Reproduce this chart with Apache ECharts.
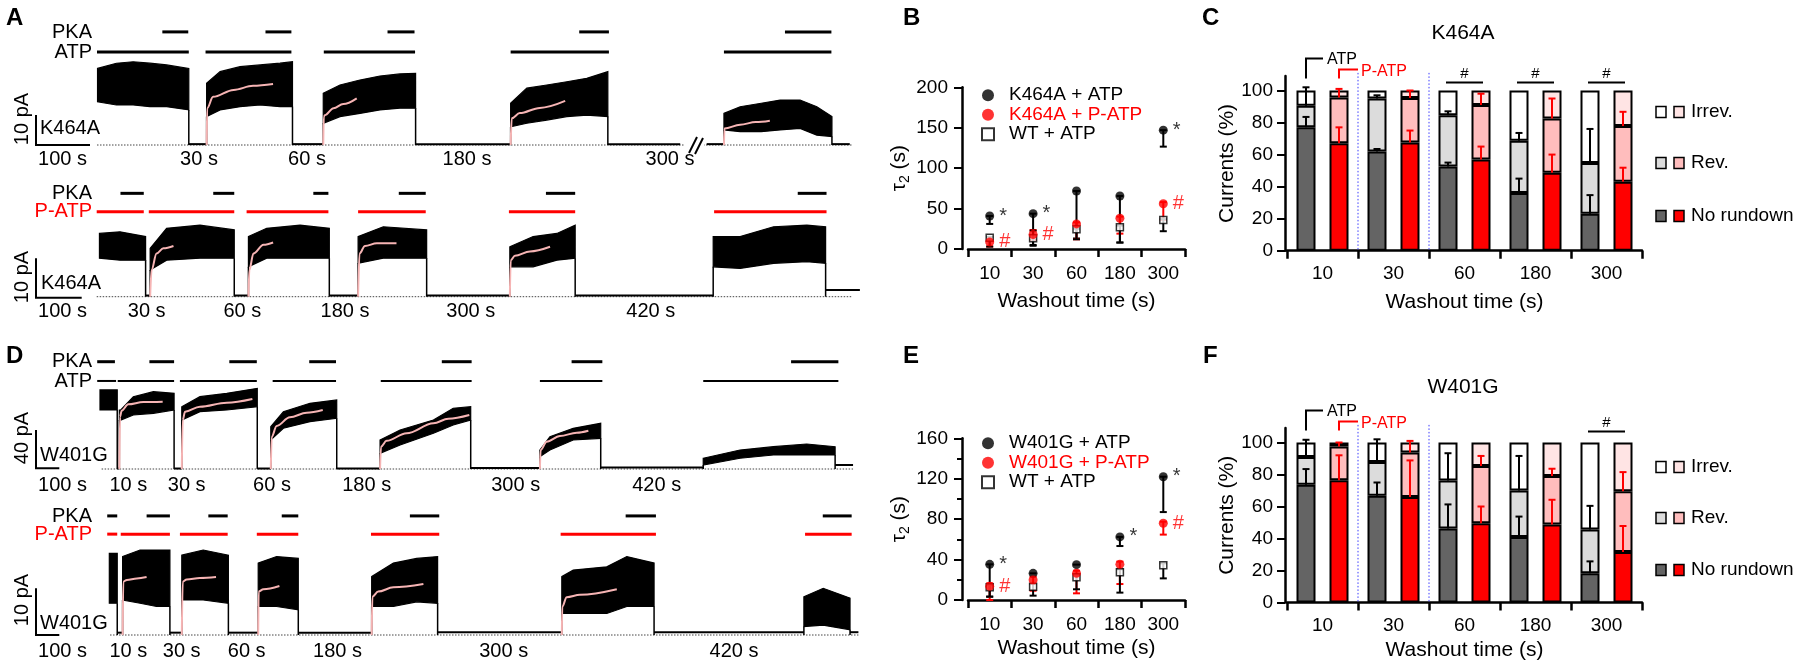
<!DOCTYPE html>
<html><head><meta charset="utf-8">
<script src="https://cdn.jsdelivr.net/npm/echarts@6/dist/echarts.min.js"></script>
<style>html,body{margin:0;padding:0;background:#fff}#c{width:1800px;height:665px}</style>
</head><body><div id="c"></div>
<script>
// ================= DATA =================
const washoutCats = ['10', '30', '60', '180', '300'];

// ---- Panel A, top trace (K464A, ATP): [time s, low pA, high pA] envelope of each current pulse
const aTopBands = [
  [[1,14.9,26.4],[36,13.8,28.2],[67,13.8,28.7],[98,13.2,28.2],[129,13.2,27.6],[170,12.1,26.4]],
  [[203,9.8,21.3],[228,12.1,25.3],[265,13.2,27.0],[302,13.8,27.6],[339,13.2,28.2],[362,13.2,28.7]],
  [[419,7.5,17.8],[450,9.8,20.7],[487,10.9,22.4],[524,12.1,23.8],[561,12.7,24.5],[590,12.7,24.7]],
  [[766,6.3,14.4],[796,7.5,19.6],[833,8.6,20.7],[870,9.8,21.8],[907,10.3,23.0],[946,9.8,25.3]],
  [[1161,5.2,10.9],[1191,4.6,13.2],[1230,4.6,14.4],[1265,5.2,15.5],[1302,5.7,15.5],[1333,3.4,13.2],[1361,2.9,9.8]]
];
const aTopFits = [
  [[203,0],[204,12.7],[215,16.6],[253,19.0],[289,20.4],[326,21.0]],
  [[419,0],[420,9.8],[422,10.3],[438,12.7],[456,14.1],[481,16.1]],
  [[766,0],[768,9.2],[783,11.0],[820,12.8],[867,15.2]],
  [[1161,0],[1162,5.7],[1191,7.0],[1220,7.9],[1246,8.4]]
];
const aTopBaseline = [[170,203,0.3],[362,419,0.3],[590,766,0.3],[946,1080,0.3],[1129,1161,0.3],[1361,1394,0.3]];
const aTopATP = [[0,170],[201,360],[420,589],[766,948],[1161,1360]];
const aTopPKA = [[121,169],[312,360],[538,588],[893,948],[1274,1360]];
const aTopWashout = ['30 s', '60 s', '180 s', '300 s'];

// ---- Panel A, bottom trace (K464A, P-ATP)
const aBotBands = [
  [[6,9.8,16.1],[51,9.3,16.5],[107,9.3,15.3]],
  [[117,6.8,12.3],[153,9.3,17.4],[226,9.8,18.2],[301,9.8,17.0]],
  [[332,7.6,15.3],[372,9.8,17.4],[445,9.8,18.2],[509,9.8,17.4]],
  [[572,8.5,15.3],[627,9.8,17.8],[722,9.8,17.0]],
  [[904,7.6,12.7],[955,7.6,15.3],[1007,9.3,16.1],[1047,9.8,18.2]],
  [[1349,7.6,15.3],[1408,7.2,15.3],[1481,8.5,17.8],[1554,8.9,18.2],[1595,8.5,17.8]]
];
const aBotFits = [
  [[117,0],[120,6.8],[131,11.0],[146,12.3],[168,12.9]],
  [[332,0],[334,6.8],[343,11.0],[365,13.2],[386,13.8]],
  [[572,0],[575,11.0],[587,12.9],[613,13.6],[656,13.6]],
  [[904,0],[906,9.3],[915,10.4],[948,11.5],[992,12.7]]
];
const aBotBaseline = [[107,117,0.3],[301,332,0.3],[509,572,0.3],[722,904,0.3],[1047,1349,0.3],[1595,1670,1.7]];
const aBotPATP = [[0,103],[114,301],[328,507],[572,720],[902,1047],[1351,1597]];
const aBotPKA = [[52,103],[255,301],[474,507],[661,720],[983,1047],[1534,1597]];
const aBotWashout = ['30 s', '60 s', '180 s', '300 s', '420 s'];

// ---- Panel D, top trace (W401G, ATP)
const dTopBands = [
  [[0,61.6,82.5],[74,61.6,82.5]],
  [[83,51.1,61.6],[89,51.1,61.6],[143,56.4,75.5],[229,58.1,80.7],[318,61.6,79.0]],
  [[351,51.1,65.0],[429,59.8,75.5],[544,61.6,79.0],[675,65.0,84.2]],
  [[733,30.3,44.2],[787,42.5,59.8],[901,49.4,68.6],[1016,52.9,72.0]],
  [[1202,16.4,30.3],[1288,25.1,40.7],[1431,37.3,51.1],[1516,45.9,63.4],[1591,51.1,65.0]],
  [[1888,12.8,19.8],[1931,19.8,33.7],[2031,30.3,42.5],[2149,32.0,47.7]],
  [[2589,4.2,11.2],[2747,11.2,19.8],[2890,14.6,23.3],[3033,14.6,26.1],[3155,14.6,23.3]]
];
const dTopFits = [
  [[83,0],[86,54.6],[93,60.9],[121,67.5],[186,69.9],[269,70.3]],
  [[351,0],[355,51.1],[365,59.8],[429,65.0],[544,69.2],[654,73.1]],
  [[733,0],[737,33.7],[758,44.9],[815,54.0],[887,58.8],[956,61.6]],
  [[1202,0],[1206,23.3],[1230,29.5],[1316,37.3],[1431,47.7],[1495,52.5],[1585,56.4]],
  [[1888,0],[1891,19.8],[1917,28.5],[1974,34.4],[2046,37.9],[2096,40.0]]
];
const dTopBaseline = [[74,83,0.5],[318,351,0.5],[675,733,0.5],[1016,1202,0.5],[1591,1888,1],[2149,2589,1.5],[3155,3232,4.2]];
const dTopATP = [[-12,69],[76,318],[343,673],[741,1013],[1205,1595],[1888,2156],[2589,3169]];
const dTopPKA = [[-12,64],[212,318],[555,673],[898,1013],[1467,1595],[2024,2156],[2966,3169]];
const dTopWashout = ['10 s', '30 s', '60 s', '180 s', '300 s', '420 s'];

// ---- Panel D, bottom trace (W401G, P-ATP)
const dBotBands = [
  [[40,6.8,17.5],[74,6.8,17.5]],
  [[97,7.5,16.8],[172,6.8,18.2],[243,6.1,18.2],[300,6.1,18.2]],
  [[351,7.5,17.1],[443,7.5,18.2],[551,6.8,17.1]],
  [[679,6.1,15.4],[758,6.1,16.8],[851,5.4,16.4]],
  [[1166,6.1,12.5],[1259,6.1,15.4],[1359,7.1,16.4],[1449,6.8,16.8]],
  [[1982,4.6,12.5],[2031,4.6,13.9],[2175,4.6,14.6],[2261,6.1,16.8],[2378,6.1,15.4]],
  [[3021,1.8,8.2],[3104,2.1,10.0],[3219,1.1,7.9]]
];
const dBotFits = [
  [[97,0],[100,11.4],[115,11.8],[158,12.1],[200,12.4]],
  [[351,0],[355,11.4],[372,11.9],[429,12.2],[498,12.4]],
  [[679,0],[681,9.3],[701,9.8],[770,10.5]],
  [[1166,0],[1169,8.2],[1194,9.3],[1259,10.2],[1388,10.9]],
  [[1982,0],[1984,6.1],[2003,8.1],[2060,8.6],[2218,9.8]]
];
const dBotBaseline = [[74,97,0.5],[300,351,0.5],[551,679,0.5],[851,1166,0.5],[1449,1982,0.6],[2378,3021,0.6],[3219,3255,0.6]];
const dBotPATP = [[31,74],[89,300],[343,548],[673,851],[1163,1456],[1977,2386],[3026,3226]];
const dBotPKA = [[31,74],[200,300],[465,548],[780,851],[1330,1456],[2256,2386],[3102,3226]];
const dBotWashout = ['10 s', '30 s', '60 s', '180 s', '300 s', '420 s'];

// ---- Panel B: tau2 (s) for K464A
const bMeanATP  = [40.8, 43.7, 71.8, 65.6, 147];
const bLoATP    = [31, 5, 13, 8, 126.6];
const bHiATP    = [40.8, 43.7, 71.8, 65.6, 147];
const bMeanPATP = [8.7, 18, 31, 38, 56];
const bLoPATP   = [3, 11, 12, 19, 36];
const bHiPATP   = [11, 23.5, 33, 40, 58];
const bMeanWT   = [14, 13.2, 24.3, 26.8, 35.9];
const bLoWT     = [3, 4, 12, 8, 22];
const bHiWT     = [15, 22.7, 25, 29, 37];
const bSigATP   = ['*', '*', '', '', '*'];
const bSigPATP  = ['#', '#', '', '', '#'];

// ---- Panel E: tau2 (s) for W401G
const eMeanATP  = [35.3, 26.4, 35, 62.4, 122];
const eLoATP    = [3.3, 26.4, 35, 53.4, 87];
const eHiATP    = [35.3, 26.4, 35, 62.4, 122];
const eMeanPATP = [13.5, 19.8, 26.4, 35.3, 75.9];
const eLoPATP   = [0, 9.2, 6.6, 15.8, 64.7];
const eHiPATP   = [16.5, 23, 29, 38, 77.5];
const eMeanWT   = [12.5, 13.2, 22.4, 27.4, 34.3];
const eLoWT     = [3.3, 4.3, 10.6, 7.3, 21.4];
const eHiWT     = [14.8, 15.8, 24.7, 30.4, 36.3];
const eSigATP   = ['*', '', '', '*', '*'];
const eSigPATP  = ['#', '', '', '', '#'];

// ---- Panel C: currents (%) K464A
const cNoRundownATP  = [77, 62, 52.5, 36, 23];
const cRevATP        = [13.5, 33, 32, 32.7, 31.7];
const cIrrevATP      = [9.5, 5, 15.5, 31.3, 45.3];
const cNoRundownPATP = [67, 67.5, 57, 48.7, 43];
const cRevPATP       = [28.7, 27.8, 34, 33.8, 34.8];
const cIrrevPATP     = [4.3, 4.7, 9, 17.5, 22.2];
const cErrNoRundownATP  = [6.5, 1.5, 2.5, 9, 11.7];
const cErrRevATP        = [11.5, 2, 2.5, 4.8, 21.3];
const cErrNoRundownPATP = [10, 7.5, 8, 11.3, 8.8];
const cErrRevPATP       = [5.3, 4.7, 7, 12.5, 8.9];
const cSig = ['', '', '#', '#', '#'];

// ---- Panel F: currents (%) W401G
const fNoRundownATP  = [73.6, 66.7, 46.3, 41, 18.3];
const fRevATP        = [17.4, 21.1, 29.9, 29, 27.4];
const fIrrevATP      = [9, 12.2, 23.8, 30, 54.3];
const fNoRundownPATP = [76.4, 65.9, 49.5, 48.8, 31.6];
const fRevPATP       = [21.1, 27.8, 35.8, 30.2, 37.9];
const fIrrevPATP     = [2.5, 6.3, 14.7, 21, 30.5];
const fErrNoRundownATP  = [9.8, 8.3, 15, 12.7, 7.4];
const fErrRevATP        = [10.7, 14.2, 17.1, 21.6, 14.7];
const fErrNoRundownPATP = [15.6, 22.9, 10.5, 15.4, 16.2];
const fErrRevPATP       = [2.5, 7.3, 6.3, 4.6, 12];
const fSig = ['', '', '', '', '#'];

const legendRows = ['Irrev.', 'Rev.', 'No rundown'];

// ================= STYLE / LAYOUT =================
const FF = '"Liberation Sans", Arial, Helvetica, sans-serif';
const DARK = '#646464', LIGHT = '#dcdcdc', RED = '#ff0000', PINK = '#ffbdbd', PALE = '#ffe4e4';
const FIT = '#f6b4b4';
const BAR_W = 19, BAR_GAP = 14;

const chart = echarts.init(document.getElementById('c'), null, {renderer: 'canvas', width: 1800, height: 665});
const grids = [], xAxes = [], yAxes = [], series = [], legends = [], gfx = [];

// ---------- traces ----------
function segSeries(g, segs, color, width, z) {
  return {
    type: 'custom', xAxisIndex: g, yAxisIndex: g, silent: true, z: z,
    data: segs.map(s => [s[0], s[1], s[2]]),
    encode: {x: [0, 1], y: 2},
    renderItem(params, api) {
      const a = api.coord([api.value(0), api.value(2)]);
      const b = api.coord([api.value(1), api.value(2)]);
      return {type: 'line', shape: {x1: a[0], y1: a[1], x2: b[0], y2: b[1]}, style: {stroke: color, lineWidth: width}};
    }
  };
}
function bandSeries(g, bands) {
  return {
    type: 'custom', xAxisIndex: g, yAxisIndex: g, silent: true, z: 3,
    data: bands.map(b => [b[0][0], b[0][2]]),
    encode: {x: 0, y: 1},
    renderItem(params, api) {
      const b = bands[params.dataIndex];
      const top = b.map(p => api.coord([p[0], p[2]]));
      const bot = b.map(p => api.coord([p[0], p[1]])).reverse();
      const ch = [{type: 'polygon', shape: {points: top.concat(bot)}, style: {fill: '#000', stroke: '#000', lineWidth: 1.2}}];
      const last = b[b.length - 1];
      const e0 = api.coord([last[0], last[1]]), e1 = api.coord([last[0], 0]);
      ch.push({type: 'line', shape: {x1: e0[0], y1: e0[1], x2: e1[0], y2: e1[1]}, style: {stroke: '#000', lineWidth: 1.5}});
      if (params.dataIndex > 0) {
        const f = b[0];
        const s0 = api.coord([f[0], f[1]]), s1 = api.coord([f[0], 0]);
        ch.push({type: 'line', shape: {x1: s0[0], y1: s0[1], x2: s1[0], y2: s1[1]}, style: {stroke: '#000', lineWidth: 1.5}});
      }
      return {type: 'group', children: ch};
    }
  };
}
function addTrace(L, T) {
  const g = grids.length;
  grids.push({left: L.x0 + L.tmin * L.pxPerS, top: L.base - L.ymax * L.pxPerPA,
              width: (L.tmax - L.tmin) * L.pxPerS, height: (L.ymax - L.ymin) * L.pxPerPA});
  xAxes.push({gridIndex: g, type: 'value', min: L.tmin, max: L.tmax, show: false});
  yAxes.push({gridIndex: g, type: 'value', min: L.ymin, max: L.ymax, show: false});
  series.push({type: 'line', xAxisIndex: g, yAxisIndex: g, silent: true, symbol: 'none', z: 1,
               data: [[L.dot[0], 0], [L.dot[1], 0]], lineStyle: {color: '#444', width: 1, type: [1.5, 1.5]}});
  series.push(segSeries(g, T.base, '#000', 2, 2));
  series.push(bandSeries(g, T.bands));
  T.fits.forEach(f => series.push({type: 'line', xAxisIndex: g, yAxisIndex: g, silent: true, symbol: 'none', z: 6,
      data: f, smooth: 0.35, smoothMonotone: 'x', lineStyle: {color: FIT, width: 2}}));
  series.push(segSeries(g, T.app.map(s => [s[0], s[1], L.appLevel]), L.appColor, L.appW, 4));
  series.push(segSeries(g, T.pka.map(s => [s[0], s[1], L.pkaLevel]), '#000', L.pkaW, 4));
}

addTrace({x0: 97, pxPerS: 0.54, base: 145, pxPerPA: 2.9, tmin: 0, tmax: 1400, ymin: -2, ymax: 42,
          dot: [0, 1400], appLevel: 32.1, pkaLevel: 39, appColor: '#000', appW: 3, pkaW: 3},
         {bands: aTopBands, fits: aTopFits, base: aTopBaseline, app: aTopATP, pka: aTopPKA});
addTrace({x0: 96.7, pxPerS: 0.457, base: 296.7, pxPerPA: 3.93, tmin: 0, tmax: 1670, ymin: -2, ymax: 28,
          dot: [0, 1652], appLevel: 21.6, pkaLevel: 26.3, appColor: RED, appW: 3, pkaW: 3},
         {bands: aBotBands, fits: aBotFits, base: aBotBaseline, app: aBotPATP, pka: aBotPKA});
addTrace({x0: 100, pxPerS: 0.233, base: 469, pxPerPA: 0.958, tmin: -20, tmax: 3240, ymin: -5, ymax: 118,
          dot: [7, 3232], appLevel: 91.9, pkaLevel: 112, appColor: '#000', appW: 2, pkaW: 3},
         {bands: dTopBands, fits: dTopFits, base: dTopBaseline, app: dTopATP, pka: dTopPKA});
addTrace({x0: 100, pxPerS: 0.233, base: 635, pxPerPA: 4.67, tmin: -20, tmax: 3260, ymin: -2, ymax: 27,
          dot: [43, 3255], appLevel: 21.6, pkaLevel: 25.5, appColor: RED, appW: 3, pkaW: 3},
         {bands: dBotBands, fits: dBotFits, base: dBotBaseline, app: dBotPATP, pka: dBotPKA});

// ---------- tau2 scatter panels ----------
function errSeries(g, lo, hi, color, z) {
  return {
    type: 'custom', xAxisIndex: g, yAxisIndex: g, silent: true, z: z,
    data: lo.map((l, i) => [i, l, hi[i]]),
    encode: {x: 0, y: [1, 2]},
    renderItem(params, api) {
      const p0 = api.coord([api.value(0), api.value(1)]);
      const p1 = api.coord([api.value(0), api.value(2)]);
      const x = p0[0], c = 3.5, st = {stroke: color, lineWidth: 2};
      const ch = [{type: 'line', shape: {x1: x, y1: p0[1], x2: x, y2: p1[1]}, style: st},
                  {type: 'line', shape: {x1: x - c, y1: p0[1], x2: x + c, y2: p0[1]}, style: st}];
      if (Math.abs(p1[1] - p0[1]) > 1) ch.push({type: 'line', shape: {x1: x - c, y1: p1[1], x2: x + c, y2: p1[1]}, style: st});
      return {type: 'group', children: ch};
    }
  };
}
function tauPanel(o) {
  const g = grids.length;
  grids.push({left: 968, width: 217, top: o.top, height: o.height});
  xAxes.push({gridIndex: g, type: 'category', data: washoutCats, offset: 6, boundaryGap: true,
    axisLine: {lineStyle: {color: '#000', width: 2.5}},
    axisTick: {show: true, length: 8, alignWithLabel: false, lineStyle: {color: '#000', width: 2.5}},
    axisLabel: {color: '#000', fontSize: 19, fontFamily: FF, margin: 9},
    name: 'Washout time (s)', nameLocation: 'middle', nameGap: o.nameGapX,
    nameTextStyle: {color: '#000', fontSize: 21, fontFamily: FF}});
  yAxes.push({gridIndex: g, type: 'value', min: 0, max: o.max, interval: o.interval, offset: 6,
    axisLine: {show: true, lineStyle: {color: '#000', width: 2.5}},
    axisTick: {show: true, length: 8, lineStyle: {color: '#000', width: 2}},
    minorTick: {show: o.minor, splitNumber: 2, length: 5, lineStyle: {color: '#000', width: 2}},
    splitLine: {show: false},
    axisLabel: {color: '#000', fontSize: 19, fontFamily: FF, margin: 14},
    name: 'τ{s|2} (s)', nameLocation: 'middle', nameGap: 42,
    nameTextStyle: {color: '#000', fontSize: 21, fontFamily: FF, rich: {s: {fontSize: 14, fontFamily: FF, verticalAlign: 'bottom', padding: [12, 0, 0, 0]}}}});
  const sets = [
    {name: o.names[0], mean: o.mATP, lo: o.loATP, hi: o.hiATP, sig: o.sigATP, color: '#000', sigColor: '#000', symbol: 'circle', size: 9, style: {color: '#000'}},
    {name: o.names[1], mean: o.mPATP, lo: o.loPATP, hi: o.hiPATP, sig: o.sigPATP, color: RED, sigColor: RED, symbol: 'circle', size: 9, style: {color: RED}},
    {name: o.names[2], mean: o.mWT, lo: o.loWT, hi: o.hiWT, sig: null, color: '#000', sigColor: '#000', symbol: 'rect', size: 7, style: {color: '#fff', borderColor: '#000', borderWidth: 1.5}}
  ];
  sets.forEach((s, k) => series.push(errSeries(g, s.lo, s.hi, s.color, 2 + k)));
  [sets[2], sets[0], sets[1]].forEach((s, k) => series.push({
    type: 'scatter', name: s.name, xAxisIndex: g, yAxisIndex: g, silent: true, z: 6 + k,
    symbol: s.symbol, symbolSize: s.size, itemStyle: s.style,
    data: s.mean.map((m, i) => ({value: [i, m], label: {show: !!(s.sig && s.sig[i]), formatter: s.sig ? s.sig[i] : '',
      position: 'right', distance: 5, color: s.sigColor, fontSize: 20, fontFamily: FF}}))
  }));
  legends.push({orient: 'vertical', left: 976, top: o.legTop, itemWidth: 12, itemHeight: 12, itemGap: 0,
    selectedMode: false,
    textStyle: {fontSize: 19, fontFamily: FF, color: '#000', lineHeight: 19.5, padding: [0, 0, 0, 10]},
    formatter: n => n.replace(/ \(E\)$/, ''),
    data: [{name: o.names[0], icon: 'circle'}, {name: o.names[1], icon: 'circle', textStyle: {color: RED, padding: [0, 0, 0, 10]}},
           {name: o.names[2], icon: 'rect'}]});
}
tauPanel({top: 87.3, height: 161.7, max: 200, interval: 50, minor: false, nameGapX: 36, legTop: 80.5,
  names: ['K464A + ATP', 'K464A + P-ATP', 'WT + ATP'],
  mATP: bMeanATP, loATP: bLoATP, hiATP: bHiATP, mPATP: bMeanPATP, loPATP: bLoPATP, hiPATP: bHiPATP,
  mWT: bMeanWT, loWT: bLoWT, hiWT: bHiWT, sigATP: bSigATP, sigPATP: bSigPATP});
tauPanel({top: 438.3, height: 161.7, max: 160, interval: 40, minor: true, nameGapX: 32, legTop: 428.5,
  names: ['W401G + ATP', 'W401G + P-ATP', 'WT + ATP (E)'],
  mATP: eMeanATP, loATP: eLoATP, hiATP: eHiATP, mPATP: eMeanPATP, loPATP: eLoPATP, hiPATP: eHiPATP,
  mWT: eMeanWT, loWT: eLoWT, hiWT: eHiWT, sigATP: eSigATP, sigPATP: eSigPATP});

// ---------- stacked bar panels ----------
function barErr(g, base, err, off, color) {
  return {
    type: 'custom', xAxisIndex: g, yAxisIndex: g, silent: true, z: 8,
    data: base.map((b, i) => [i, b, b + err[i]]),
    encode: {x: 0, y: [1, 2]},
    renderItem(params, api) {
      const p0 = api.coord([api.value(0), api.value(1)]);
      const p1 = api.coord([api.value(0), api.value(2)]);
      const x = p0[0] + off, st = {stroke: color, lineWidth: 2};
      return {type: 'group', children: [
        {type: 'line', shape: {x1: x, y1: p0[1], x2: x, y2: p1[1]}, style: st},
        {type: 'line', shape: {x1: x - 3.5, y1: p1[1], x2: x + 3.5, y2: p1[1]}, style: st}]};
    }
  };
}
function txt(text, x, y, o) {
  o = o || {};
  return {type: 'text', x: x, y: y, rotation: o.rot || 0, silent: true, z: 20,
    style: {text: text, fill: o.color || '#000', font: (o.bold ? 'bold ' : '') + (o.size || 20) + 'px ' + FF,
      align: o.align || 'center', verticalAlign: 'middle', textAlign: o.align || 'center', textVerticalAlign: 'middle'}};
}
function barPanel(o) {
  const g = grids.length;
  const pxPerPct = o.pxPerPct;
  grids.push({left: 1287, width: 355, top: o.zeroY - 109 * pxPerPct, height: 109 * pxPerPct});
  xAxes.push({gridIndex: g, type: 'category', data: washoutCats, offset: 5, boundaryGap: true,
    axisLine: {lineStyle: {color: '#000', width: 2.5}},
    axisTick: {show: true, length: 8, alignWithLabel: false, lineStyle: {color: '#000', width: 2.5}},
    axisLabel: {color: '#000', fontSize: 19, fontFamily: FF, margin: 9},
    name: 'Washout time (s)', nameLocation: 'middle', nameGap: o.nameGapX,
    nameTextStyle: {color: '#000', fontSize: 21, fontFamily: FF}});
  yAxes.push({gridIndex: g, type: 'value', min: 0, max: 109, offset: 2,
    axisLine: {show: true, lineStyle: {color: '#000', width: 2.5}},
    axisTick: {show: true, length: 8, customValues: [0, 20, 40, 60, 80, 100], lineStyle: {color: '#000', width: 2}},
    splitLine: {show: false},
    axisLabel: {color: '#000', fontSize: 19, fontFamily: FF, margin: 12, customValues: [0, 20, 40, 60, 80, 100]},
    name: 'Currents (%)', nameLocation: 'middle', nameGap: 41,
    nameTextStyle: {color: '#000', fontSize: 21, fontFamily: FF}});
  const mk = (name, stack, data, color) => ({type: 'bar', name, stack, xAxisIndex: g, yAxisIndex: g, data,
    barWidth: BAR_W, barGap: (BAR_GAP / BAR_W * 100) + '%', silent: true, z: 3,
    itemStyle: {color, borderColor: '#000', borderWidth: 2}});
  series.push(mk(o.tag + 'a1', o.tag + 'A', o.nrA, DARK), mk(o.tag + 'a2', o.tag + 'A', o.revA, LIGHT), mk(o.tag + 'a3', o.tag + 'A', o.irA, '#fff'));
  series.push(mk(o.tag + 'p1', o.tag + 'P', o.nrP, RED), mk(o.tag + 'p2', o.tag + 'P', o.revP, PINK), mk(o.tag + 'p3', o.tag + 'P', o.irP, PALE));
  const off = (BAR_W + BAR_GAP) / 2;
  series.push(barErr(g, o.nrA, o.eNrA, -off, '#000'));
  series.push(barErr(g, o.nrA.map((v, i) => v + o.revA[i]), o.eRevA, -off, '#000'));
  series.push(barErr(g, o.nrP, o.eNrP, off, RED));
  series.push(barErr(g, o.nrP.map((v, i) => v + o.revP[i]), o.eRevP, off, RED));
  series.push({
    type: 'custom', xAxisIndex: g, yAxisIndex: g, silent: true, z: 9,
    data: o.sig.map((s, i) => [i, 100]).filter((d, i) => o.sig[i]),
    encode: {x: 0, y: 1},
    renderItem(params, api) {
      const p = api.coord([api.value(0), 100]);
      const y = p[1] - o.sigGap;
      return {type: 'group', children: [
        {type: 'line', shape: {x1: p[0] - off - 2, y1: y, x2: p[0] + off + 2, y2: y}, style: {stroke: '#000', lineWidth: 2}},
        {type: 'text', style: {text: '#', x: p[0], y: y - 1, fill: '#000', font: '15px ' + FF,
          align: 'center', verticalAlign: 'bottom', textAlign: 'center', textVerticalAlign: 'bottom'}}]};
    }
  });
  series.push({
    type: 'custom', xAxisIndex: g, yAxisIndex: g, silent: true, z: 9,
    data: [[0, 100]], encode: {x: 0, y: 1},
    renderItem(params, api) {
      const p = api.coord([0, 100]);
      const cw = api.size([1, 0])[0];
      const xa = p[0] - off, xp = p[0] + off, y0 = p[1] - 12;
      const ch = [
        {type: 'polyline', shape: {points: [[xa, y0], [xa, p[1] - 32], [xa + 17, p[1] - 32]]}, style: {stroke: '#000', lineWidth: 2, fill: null}},
        {type: 'text', style: {text: 'ATP', x: xa + 21, y: p[1] - 31, fill: '#000', font: '16px ' + FF,
          align: 'left', verticalAlign: 'middle', textAlign: 'left', textVerticalAlign: 'middle'}},
        {type: 'polyline', shape: {points: [[xp, y0], [xp, p[1] - 21], [xp + 19, p[1] - 21]]}, style: {stroke: RED, lineWidth: 2, fill: null}},
        {type: 'text', style: {text: 'P-ATP', x: xp + 22, y: p[1] - 19, fill: RED, font: '16px ' + FF,
          align: 'left', verticalAlign: 'middle', textAlign: 'left', textVerticalAlign: 'middle'}}
      ];
      [0, 1].forEach(k => {
        const x = p[0] + cw / 2 + k * cw;
        const yb = api.coord([0, 0])[1], yt = api.coord([0, 111])[1];
        ch.push({type: 'line', shape: {x1: x, y1: yt, x2: x, y2: yb}, style: {stroke: '#3b3bff', lineWidth: 1, lineDash: [1.5, 2]}});
      });
      return {type: 'group', children: ch};
    }
  });
  o.legY.forEach((y, k) => {
    const cols = [['#fff', PALE], [LIGHT, PINK], [DARK, RED]][k];
    gfx.push({type: 'rect', shape: {x: 1656, y: y - 5.5, width: 10, height: 11}, style: {fill: cols[0], stroke: '#000', lineWidth: 1.5}, silent: true});
    gfx.push({type: 'rect', shape: {x: 1674, y: y - 5.5, width: 10, height: 11}, style: {fill: cols[1], stroke: '#000', lineWidth: 1.5}, silent: true});
    gfx.push(txt(legendRows[k], 1691, y, {align: 'left', size: 19}));
  });
  gfx.push(txt(o.title, 1463, o.titleY, {size: 21}));
}

barPanel({tag: 'C', zeroY: 250.7, pxPerPct: 1.602, nameGapX: 36, sigGap: 8, legY: [112, 163, 216], title: 'K464A', titleY: 33,
  nrA: cNoRundownATP, revA: cRevATP, irA: cIrrevATP, nrP: cNoRundownPATP, revP: cRevPATP, irP: cIrrevPATP,
  eNrA: cErrNoRundownATP, eRevA: cErrRevATP, eNrP: cErrNoRundownPATP, eRevP: cErrRevPATP, sig: cSig});
barPanel({tag: 'F', zeroY: 602.5, pxPerPct: 1.6, nameGapX: 32, sigGap: 11, legY: [467, 518, 570], title: 'W401G', titleY: 387,
  nrA: fNoRundownATP, revA: fRevATP, irA: fIrrevATP, nrP: fNoRundownPATP, revP: fRevPATP, irP: fIrrevPATP,
  eNrA: fErrNoRundownATP, eRevA: fErrRevATP, eNrP: fErrNoRundownPATP, eRevP: fErrRevPATP, sig: fSig});

// ---------- text / scale bars for traces ----------
[['A', 6, 18], ['B', 903, 18.5], ['C', 1202, 18.5], ['D', 6, 356], ['E', 903, 356], ['F', 1203, 356]]
  .forEach(l => gfx.push(txt(l[0], l[1], l[2], {bold: true, size: 24, align: 'left'})));

function traceText(o) {
  gfx.push(txt('PKA', 92, o.pkaY, {align: 'right'}));
  gfx.push(txt(o.appName, 92, o.appY, {align: 'right', color: o.appColor}));
  gfx.push({type: 'polyline', silent: true, z: 20, shape: {points: o.scale}, style: {stroke: '#000', lineWidth: 2, fill: null}});
  gfx.push(txt(o.scaleY, 22.7, o.scaleYc, {rot: Math.PI / 2}));
  gfx.push(txt(o.mut, o.mutX, o.mutY, {align: 'left'}));
  gfx.push(txt('100 s', 62.5, o.labY));
  o.washout.forEach((w, i) => gfx.push(txt(w, o.washX[i], o.labY)));
}
traceText({pkaY: 32, appY: 52, appName: 'ATP', appColor: '#000', scale: [[36, 115], [36, 145], [90, 145]],
  scaleY: '10 pA', scaleYc: 119, mut: 'K464A', mutX: 40, mutY: 128, labY: 159,
  washout: aTopWashout, washX: [199, 307, 467, 670]});
traceText({pkaY: 193.3, appY: 211.7, appName: 'P-ATP', appColor: RED, scale: [[36, 258.3], [36, 297.7], [81.7, 297.7]],
  scaleY: '10 pA', scaleYc: 277, mut: 'K464A', mutX: 41, mutY: 283.3, labY: 311.7,
  washout: aBotWashout, washX: [146.7, 242.3, 345, 470.8, 650.8]});
traceText({pkaY: 361.7, appY: 381, appName: 'ATP', appColor: '#000', scale: [[36, 430], [36, 468.3], [59.3, 468.3]],
  scaleY: '40 pA', scaleYc: 438, mut: 'W401G', mutX: 40, mutY: 455, labY: 485.7,
  washout: dTopWashout, washX: [128.3, 186.7, 272, 366.7, 515.7, 656.7]});
traceText({pkaY: 516, appY: 534.3, appName: 'P-ATP', appColor: RED, scale: [[36, 588.3], [36, 635], [59.3, 635]],
  scaleY: '10 pA', scaleYc: 600, mut: 'W401G', mutX: 40, mutY: 623.3, labY: 651.7,
  washout: dBotWashout, washX: [128.3, 181.7, 246.7, 337.5, 503.7, 734]});
gfx.push({type: 'rect', silent: true, z: 19, shape: {x: 684, y: 140, width: 20, height: 10}, style: {fill: '#fff'}});
gfx.push({type: 'line', silent: true, z: 20, shape: {x1: 689, y1: 153, x2: 697, y2: 137}, style: {stroke: '#000', lineWidth: 2}});
gfx.push({type: 'line', silent: true, z: 20, shape: {x1: 695, y1: 154, x2: 703, y2: 138}, style: {stroke: '#000', lineWidth: 2}});

chart.setOption({
  animation: false,
  backgroundColor: '#fff',
  textStyle: {fontFamily: FF},
  grid: grids, xAxis: xAxes, yAxis: yAxes, series: series, legend: legends,
  graphic: {elements: gfx}
});
</script></body></html>
